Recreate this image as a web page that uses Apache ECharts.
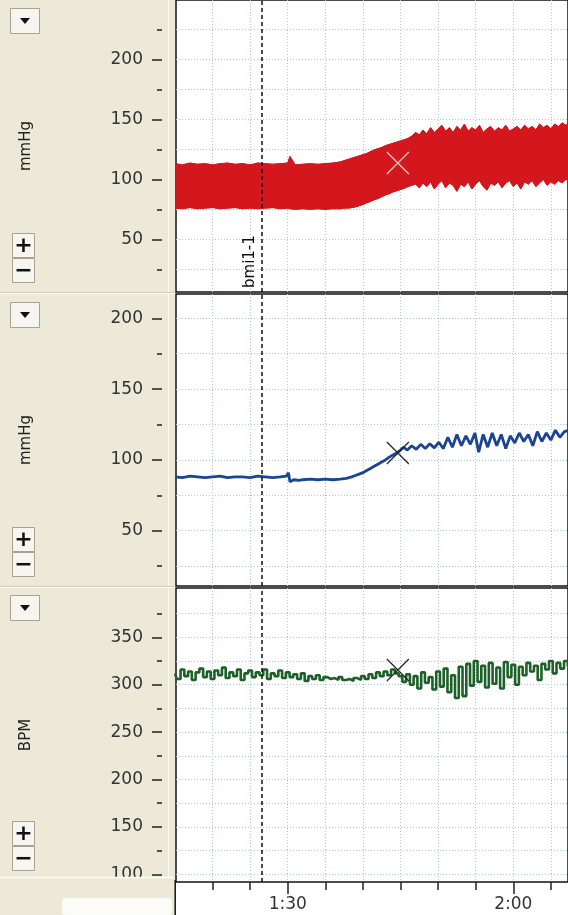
<!DOCTYPE html>
<html>
<head>
<meta charset="utf-8">
<script src="https://cdn.jsdelivr.net/npm/echarts@6/dist/echarts.min.js"></script>
<style>
html, body { margin: 0; padding: 0; background: #fff; }
#main { width: 568px; height: 915px; }
</style>
</head>
<body>
<div id="main"></div>
<script>
var myChart = echarts.init(document.getElementById('main'));

// blood pressure envelope (panel 1), time in seconds
var bpTime = [75, 76, 77, 78, 79, 80, 81, 82, 83, 84, 85, 86, 87, 88, 89, 90, 90.3, 91, 92, 93, 94, 95, 96,
	96.5, 97, 97.5, 98, 98.5, 99, 99.5, 100, 100.5, 101, 101.5, 102, 102.5, 103, 103.5, 104, 104.5, 105, 105.5, 106,
	106.5, 107, 107.5, 108, 108.5, 109, 109.5, 110, 110.5, 111, 111.5, 112, 112.5, 113, 113.5, 114, 114.5, 115, 115.5,
	116, 116.5, 117, 117.5, 118, 118.5, 119, 119.5, 120, 120.5, 121, 121.5, 122, 122.5, 123, 123.5, 124, 124.5, 125,
	125.5, 126, 126.5, 127, 127.5];
var bpSys = [113, 112, 113.5, 112.5, 113, 112, 113, 113.5, 112.5, 113, 112, 113.5, 113, 112.5, 113, 113.5, 119, 112, 112.5, 113, 112.5, 113, 113.5,
	114, 114.5, 115.5, 116.5, 117.5, 118.5, 119.5, 120.5, 121.5, 123, 124.5, 125.5, 126.5, 128, 129, 130, 131, 132, 133, 134,
	136, 139, 137, 141, 138, 143, 139, 142, 145, 140, 143, 139, 144, 141, 146, 140, 143, 141, 145,
	139, 142, 144, 140, 143, 141, 145, 140, 142, 144, 141, 145, 142, 144, 141, 146, 143, 145, 142,
	146, 144, 147, 145, 147];
var bpDia = [76, 75.5, 76.5, 75.5, 76, 76.5, 75.5, 76, 76.5, 75.5, 76, 75.5, 76, 76.5, 75.5, 76, 75.5, 75, 75.5, 75, 75.5, 75, 75.5,
	75.5, 75.5, 76, 76, 76.5, 77, 78, 79, 80.5, 81.5, 83, 84, 85.5, 87, 88, 89.5, 90.5, 91.5, 92.5, 94,
	95, 96, 93, 97, 94, 98, 92, 96, 99, 93, 97, 95, 90, 96, 94, 98, 92, 96, 99,
	94, 91, 97, 95, 98, 93, 97, 99, 94, 97, 92, 98, 96, 99, 94, 97, 100, 95, 98,
	96, 99, 97, 100, 98];

// mean pressure (panel 2)
var mapTime = [75, 76, 77, 78, 79, 80, 81, 82, 83, 84, 85, 86, 87, 88, 89, 89.8, 90.1, 90.3, 90.8, 91.5, 92, 93, 94, 95, 96, 97, 97.8,
	98.5, 99, 99.5, 100, 100.5, 101, 101.5, 102, 102.5, 103, 103.5, 104, 104.5, 105, 105.4, 105.9, 106.5, 107.1, 107.7,
	108.3, 108.9, 109.5, 110.1, 110.7, 111.3, 111.9, 112.5, 113.1, 113.7, 114.3, 114.9, 115.4, 116, 116.6, 117.2, 117.8,
	118.4, 119, 119.6, 120.2, 120.8, 121.4, 122, 122.6, 123.2, 123.8, 124.4, 125, 125.6, 126.2, 126.8, 127.4];
var mapValues = [88, 87.5, 88.5, 88, 87.5, 88, 88.5, 87.5, 88, 88, 87.5, 88.5, 88, 87.5, 88, 88.5, 91, 84.5, 86, 85.5, 86, 86.5, 86, 86.5, 86, 86.5, 87,
	88, 89, 90, 91, 92.5, 94, 95.5, 97, 98.5, 100, 102, 103.5, 105, 107, 109, 107, 110, 107.5, 111,
	108, 111.5, 108.5, 112.5, 108, 116, 109, 118, 110, 117, 111, 119, 105.5, 118, 109, 119, 110,
	118, 108, 117, 112, 119, 113, 118, 110, 120, 113, 119, 114, 121, 116, 120, 121];

// heart rate (panel 3)
var hrTime = [75, 75.5, 76, 76.5, 77, 77.5, 78, 78.5, 79, 79.5, 80, 80.5, 81, 81.5, 82, 82.5, 83, 83.5, 84, 84.5,
	85, 85.5, 86, 86.5, 87, 87.5, 88, 88.5, 89, 89.5, 90, 90.5, 91, 91.5, 92, 92.5, 93, 93.5, 94, 94.5,
	95, 95.5, 96, 96.5, 97, 97.5, 98, 98.5, 99, 99.5, 100, 100.5, 101, 101.5, 102, 102.5, 103, 103.5, 104, 104.5,
	105, 105.5, 106, 106.5, 107, 107.5, 108, 108.5, 109, 109.5, 110, 110.5, 111, 111.5, 112, 112.5, 113, 113.5, 114, 114.5,
	115, 115.5, 116, 116.5, 117, 117.5, 118, 118.5, 119, 119.5, 120, 120.5, 121, 121.5, 122, 122.5, 123, 123.5, 124, 124.5,
	125, 125.5, 126, 126.5, 127, 127.5];
var hrValues = [312, 306, 316, 309, 314, 305, 313, 317, 308, 314, 306, 315, 310, 318, 307, 313, 309, 316, 305, 312,
	315, 308, 313, 310, 316, 306, 312, 309, 315, 307, 313, 308, 311, 306, 312, 304, 309, 306, 310, 305,
	308, 306, 307, 305, 308, 305, 306, 304, 307, 305, 309, 306, 311, 307, 313, 309, 314, 310, 316, 312,
	309, 303, 311, 300, 309, 296, 313, 302, 308, 295, 314, 298, 317, 292, 310, 286, 319, 288, 322, 299,
	325, 303, 320, 297, 323, 301, 318, 296, 324, 308, 321, 300, 319, 310, 323, 314, 320, 305, 322, 316,
	325, 312, 323, 317, 325, 320];

var unitNames = ['mmHg', 'mmHg', 'BPM'];
var yTicks = [[50, 100, 150, 200], [50, 100, 150, 200], [100, 150, 200, 250, 300, 350]];
var timeTicks = [90, 120];
var markerTime = 86.5;
var markerLabel = 'bmi1-1';
var cursorTime = 104.65;
var cursorValues = [113.6, 104.9, 315.5];

var xMin = 75.14, xMax = 127.28;
var yRanges = [[6.1, 249.4], [10.95, 217.2], [91.9, 402]];
var grids = [
	{left: 176, top: 0, width: 394, height: 292},
	{left: 176, top: 294, width: 394, height: 292},
	{left: 176, top: 588, width: 394, height: 294}
];

var font = 'DejaVu Sans';
var gridLine = {color: '#a9c6d8', type: [1, 2], width: 1};
var tickLine = {color: '#222', width: 1.5};
var red = '#d3171d';

function zip(xs, ys) {
	var out = [];
	for (var i = 0; i < xs.length; i++) out.push([xs[i], ys[i]]);
	return out;
}

function timeLabel(v) {
	var m = Math.floor(v / 60), s = v % 60;
	return m + ':' + (s < 10 ? '0' : '') + s;
}

function makeX(i) {
	var bottom = i === 2;
	return {
		type: 'value', gridIndex: i, min: xMin, max: xMax,
		minInterval: 30, maxInterval: 30,
		axisLine: {show: false},
		axisTick: {show: bottom, length: 12, lineStyle: tickLine, customValues: timeTicks},
		minorTick: {show: bottom, splitNumber: 6, length: 8, lineStyle: tickLine},
		axisLabel: {show: bottom, margin: 14, color: '#333', fontSize: 17, fontFamily: font,
			customValues: timeTicks, formatter: timeLabel},
		splitLine: {show: true, lineStyle: gridLine},
		minorSplitLine: {show: true, lineStyle: gridLine}
	};
}

function makeY(i) {
	return {
		type: 'value', gridIndex: i, min: yRanges[i][0], max: yRanges[i][1],
		minInterval: 50, maxInterval: 50,
		offset: 14,
		name: unitNames[i], nameLocation: 'middle', nameRotate: 90, nameGap: 128,
		nameTextStyle: {color: '#222', fontSize: 15, fontFamily: font},
		axisLine: {show: false},
		axisTick: {show: true, length: 10, lineStyle: tickLine, customValues: yTicks[i]},
		minorTick: {show: true, splitNumber: 2, length: 5, lineStyle: tickLine},
		axisLabel: {margin: 19, color: '#333', fontSize: 17, fontFamily: font, customValues: yTicks[i]},
		splitLine: {show: true, lineStyle: gridLine},
		minorSplitLine: {show: true, lineStyle: gridLine}
	};
}

function markerLine(i) {
	return {
		silent: true, symbol: 'none', animation: false,
		lineStyle: {color: '#111', type: [4, 3], width: 1.5},
		label: {show: i === 0, formatter: markerLabel, position: 'insideStartTop',
			color: '#111', fontSize: 15, fontFamily: font, distance: 4},
		data: [{xAxis: markerTime}]
	};
}

function cursorMark(i, color) {
	return {
		silent: true, animation: false,
		symbol: 'path://M0 0L10 10M10 0L0 10', symbolSize: 22,
		itemStyle: {color: 'transparent', borderColor: color, borderWidth: 1.2},
		label: {show: false},
		data: [{coord: [cursorTime, cursorValues[i]]}]
	};
}

// band between systolic and diastolic envelopes
function renderBand(params, api) {
	var pts = [];
	for (var i = 0; i < bpTime.length; i++) pts.push(api.coord([bpTime[i], bpSys[i]]));
	for (var j = bpTime.length - 1; j >= 0; j--) pts.push(api.coord([bpTime[j], bpDia[j]]));
	return {type: 'polygon', shape: {points: pts}, style: {fill: red, stroke: red, lineWidth: 1}};
}

// left side panel decorations (buttons, splitters)
var beige = '#ECE9D8';
var graphics = [
	{type: 'rect', z: -1, shape: {x: 0, y: 0, width: 175, height: 915}, style: {fill: beige}},
	{type: 'line', z: -1, shape: {x1: 168.5, y1: 0, x2: 168.5, y2: 878}, style: {stroke: '#fbfaf4', lineWidth: 1}},
	{type: 'line', z: -1, shape: {x1: 0, y1: 292.5, x2: 175, y2: 292.5}, style: {stroke: '#cdc9b4', lineWidth: 1}},
	{type: 'line', z: -1, shape: {x1: 0, y1: 293.5, x2: 175, y2: 293.5}, style: {stroke: '#fff', lineWidth: 1}},
	{type: 'line', z: -1, shape: {x1: 0, y1: 586.5, x2: 175, y2: 586.5}, style: {stroke: '#cdc9b4', lineWidth: 1}},
	{type: 'line', z: -1, shape: {x1: 0, y1: 587.5, x2: 175, y2: 587.5}, style: {stroke: '#fff', lineWidth: 1}},
	{type: 'rect', z: 10, shape: {x: 0, y: 877, width: 174, height: 38}, style: {fill: beige}},
	{type: 'line', z: 10, shape: {x1: 0, y1: 877.5, x2: 174, y2: 877.5}, style: {stroke: '#fff', lineWidth: 1.5}},
	{type: 'line', z: 10, shape: {x1: 175.2, y1: 880, x2: 175.2, y2: 915}, style: {stroke: '#111', lineWidth: 1.5}},
	{type: 'rect', z: 10, shape: {x: 62, y: 898, width: 110, height: 17, r: 4}, style: {fill: '#fbfbf8'}}
];
var buttonRows = [[8, 233, 258], [302, 527, 552], [595, 821, 846]];
buttonRows.forEach(function (b) {
	graphics.push({type: 'rect', z: 5, shape: {x: 10.5, y: b[0] + 0.5, width: 29, height: 25},
		style: {fill: '#f6f5f0', stroke: '#a6a393', lineWidth: 1}});
	graphics.push({type: 'polygon', z: 6, shape: {points: [[20, b[0] + 10], [30, b[0] + 10], [25, b[0] + 16]]},
		style: {fill: '#111'}});
	graphics.push({type: 'rect', z: 5, shape: {x: 12.5, y: b[1] + 0.5, width: 22, height: 24},
		style: {fill: '#f6f5f0', stroke: '#a6a393', lineWidth: 1}});
	graphics.push({type: 'text', z: 6, x: 23.5, y: b[1] + 13,
		style: {text: '+', fill: '#111', font: 'bold 22px "DejaVu Sans"', align: 'center', verticalAlign: 'middle'}});
	graphics.push({type: 'rect', z: 5, shape: {x: 12.5, y: b[2] + 0.5, width: 22, height: 24},
		style: {fill: '#f6f5f0', stroke: '#a6a393', lineWidth: 1}});
	graphics.push({type: 'text', z: 6, x: 23.5, y: b[2] + 13,
		style: {text: '\u2212', fill: '#111', font: 'bold 22px "DejaVu Sans"', align: 'center', verticalAlign: 'middle'}});
});

var option = {
	backgroundColor: '#fff',
	animation: false,
	graphic: graphics,
	grid: grids.map(function (g) {
		return {left: g.left, top: g.top, width: g.width, height: g.height, show: true,
			backgroundColor: '#fff', borderColor: '#111', borderWidth: 1.5};
	}),
	xAxis: [makeX(0), makeX(1), makeX(2)],
	yAxis: [makeY(0), makeY(1), makeY(2)],
	series: [{
		type: 'custom', xAxisIndex: 0, yAxisIndex: 0, clip: true,
		data: [[bpTime[0], bpSys[0]]],
		renderItem: renderBand
	}, {
		type: 'line', xAxisIndex: 0, yAxisIndex: 0,
		data: zip(bpTime, bpDia), symbol: 'none',
		lineStyle: {color: red, width: 1}
	}, {
		type: 'line', xAxisIndex: 0, yAxisIndex: 0,
		data: zip(bpTime, bpSys), symbol: 'none',
		lineStyle: {color: red, width: 1},
		markLine: markerLine(0),
		markPoint: cursorMark(0, '#e6cfc8')
	}, {
		type: 'line', xAxisIndex: 1, yAxisIndex: 1,
		data: zip(mapTime, mapValues), symbol: 'none',
		lineStyle: {color: '#1c4496', width: 2.8},
		markLine: markerLine(1),
		markPoint: cursorMark(1, '#222')
	}, {
		type: 'line', xAxisIndex: 2, yAxisIndex: 2, step: 'middle',
		data: zip(hrTime, hrValues), symbol: 'none',
		lineStyle: {color: '#1d6128', width: 2.6},
		markLine: markerLine(2),
		markPoint: cursorMark(2, '#222')
	}]
};

myChart.setOption(option);
window.onresize = myChart.resize;
</script>
</body>
</html>
